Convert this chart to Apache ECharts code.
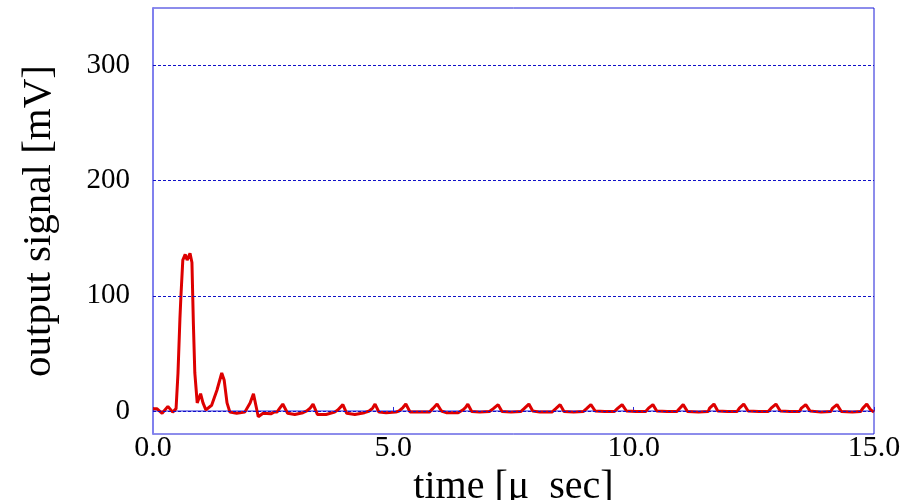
<!DOCTYPE html>
<html>
<head>
    <meta charset="utf-8">
    <title>output signal</title>
    <script src="https://cdn.jsdelivr.net/npm/echarts@6/dist/echarts.min.js"></script>
    <style>
        html, body { margin: 0; padding: 0; background: #fff; }
        #container { width: 909px; height: 500px; }
    </style>
</head>
<body>
<div id="container"></div>
<script>
    // time in microseconds
    var timeUs = [
        0.00, 0.08, 0.19, 0.31, 0.41, 0.48, 0.52, 0.56, 0.58, 0.62, 0.67, 0.71, 0.77, 0.81, 0.84, 0.87,
        0.92, 0.99, 1.04, 1.10, 1.22, 1.33, 1.43, 1.48, 1.54, 1.60, 1.74, 1.91, 2.02, 2.09, 2.14, 2.19,
        2.29, 2.45, 2.52,
        2.58, 2.63, 2.70, 2.80, 2.95, 3.12,
        3.20, 3.27, 3.33, 3.42, 3.60, 3.78,
        3.85, 3.95, 4.03, 4.20, 4.40,
        4.50, 4.57, 4.62, 4.70, 4.85, 5.05,
        5.12, 5.20, 5.26, 5.35, 5.55, 5.75,
        5.82, 5.91, 6.00, 6.10, 6.35,
        6.45, 6.50, 6.55, 6.63, 6.80, 7.00,
        7.08, 7.18, 7.26, 7.45, 7.65,
        7.72, 7.82, 7.90, 8.05, 8.30,
        8.38, 8.47, 8.55, 8.75, 8.95,
        9.02, 9.11, 9.20, 9.40, 9.60,
        9.66, 9.76, 9.85, 10.05, 10.25,
        10.31, 10.40, 10.48, 10.70, 10.90,
        10.95, 11.03, 11.12, 11.35, 11.55,
        11.58, 11.67, 11.75, 11.95, 12.15,
        12.20, 12.29, 12.38, 12.60, 12.80,
        12.86, 12.96, 13.05, 13.25, 13.45,
        13.49, 13.58, 13.67, 13.90, 14.10,
        14.14, 14.23, 14.32, 14.55, 14.72,
        14.77, 14.85, 14.93, 15.00
    ];
    // output signal in mV
    var signalMv = [
        2, 2, -2, 4, -1, 2, 33, 80, 99, 131, 136, 131, 137, 129, 76, 33,
        7, 15, 7, 1, 5, 18, 33, 27, 7, -1, -2, -1, 7, 15, 5, -5,
        -2, -2.5, -1,
        -1, 2, 6, -2, -3, -1.5,
        0, 2.5, 6, -3, -3, -1,
        1, 5.5, -2, -3, -1.5,
        0, 2.5, 6, -1, -1.5, -1,
        0, 3, 6, -1, -1, -1,
        2, 6, 0, -1.5, -1.5,
        1, 3, 6, -0.5, -1, -0.5,
        2, 5.5, -0.5, -1, -0.5,
        2, 6, 0, -1, -1,
        2, 5.5, -0.5, -1, -0.5,
        2, 5.5, 0, -0.5, -0.5,
        2, 5.5, 0, -0.5, -0.5,
        2.5, 5.5, 0, -0.5, -0.5,
        2, 5.5, -0.5, -1, -0.5,
        2.5, 6, 0, -0.5, -0.5,
        2.5, 6, 0, -0.5, -0.5,
        2.5, 6, 0, -0.5, -0.5,
        2.5, 5.5, 0, -1, -0.5,
        2.5, 5.5, -0.5, -1, -0.5,
        2.5, 6, 1, -1
    ];
    var gridValues = [0, 100, 200, 300];

    var points = [];
    for (var i = 0; i < timeUs.length; i++) {
        points.push([timeUs[i], signalMv[i]]);
    }

    var serif = '"Liberation Serif", "DejaVu Serif", serif';
    var myChart = echarts.init(document.getElementById('container'));

    myChart.setOption({
        animation: false,
        backgroundColor: '#ffffff',
        grid: {
            left: 153, right: 35, top: 8, bottom: 66,
            outerBoundsMode: 'none',
            containLabel: false,
            show: true,
            borderColor: '#1a1ad8',
            borderWidth: 1,
            backgroundColor: 'transparent'
        },
        xAxis: {
            type: 'value',
            min: 0, max: 15, interval: 5,
            name: 'time [\u03bc  sec]',
            nameLocation: 'middle',
            nameGap: 28,
            nameTextStyle: { fontFamily: serif, fontSize: 40, color: '#000' },
            axisLine: { show: true, lineStyle: { color: '#6f6fe8', width: 1.5 } },
            axisTick: { show: true, inside: true, length: 4, lineStyle: { color: '#2a2ad8' } },
            axisLabel: {
                fontFamily: serif, fontSize: 30, color: '#000', margin: -1,
                formatter: function (v) { return v.toFixed(1); }
            },
            splitLine: { show: false }
        },
        yAxis: {
            type: 'value',
            min: -20, max: 350,
            name: 'output signal [mV]',
            nameLocation: 'middle',
            nameGap: 93,
            nameTextStyle: { fontFamily: serif, fontSize: 41, color: '#000' },
            axisLine: { show: true, lineStyle: { color: '#8080ee', width: 2 } },
            axisTick: { show: false },
            axisLabel: {
                fontFamily: serif, fontSize: 29, color: '#000', margin: 23,
                showMinLabel: false, showMaxLabel: false,
                formatter: function (v) { return gridValues.indexOf(v) >= 0 ? String(v) : ''; }
            },
            splitLine: { show: false }
        },
        series: [{
            type: 'line',
            data: points,
            showSymbol: false,
            symbol: 'none',
            smooth: false,
            clip: true,
            lineStyle: { color: '#dd0000', width: 3 },
            markLine: {
                silent: true,
                symbol: 'none',
                label: { show: false },
                lineStyle: { color: '#1010c8', type: [3, 2], width: 1 },
                data: gridValues.map(function (v) { return { yAxis: v }; })
            },
            z: 3
        }]
    });
</script>
</body>
</html>
